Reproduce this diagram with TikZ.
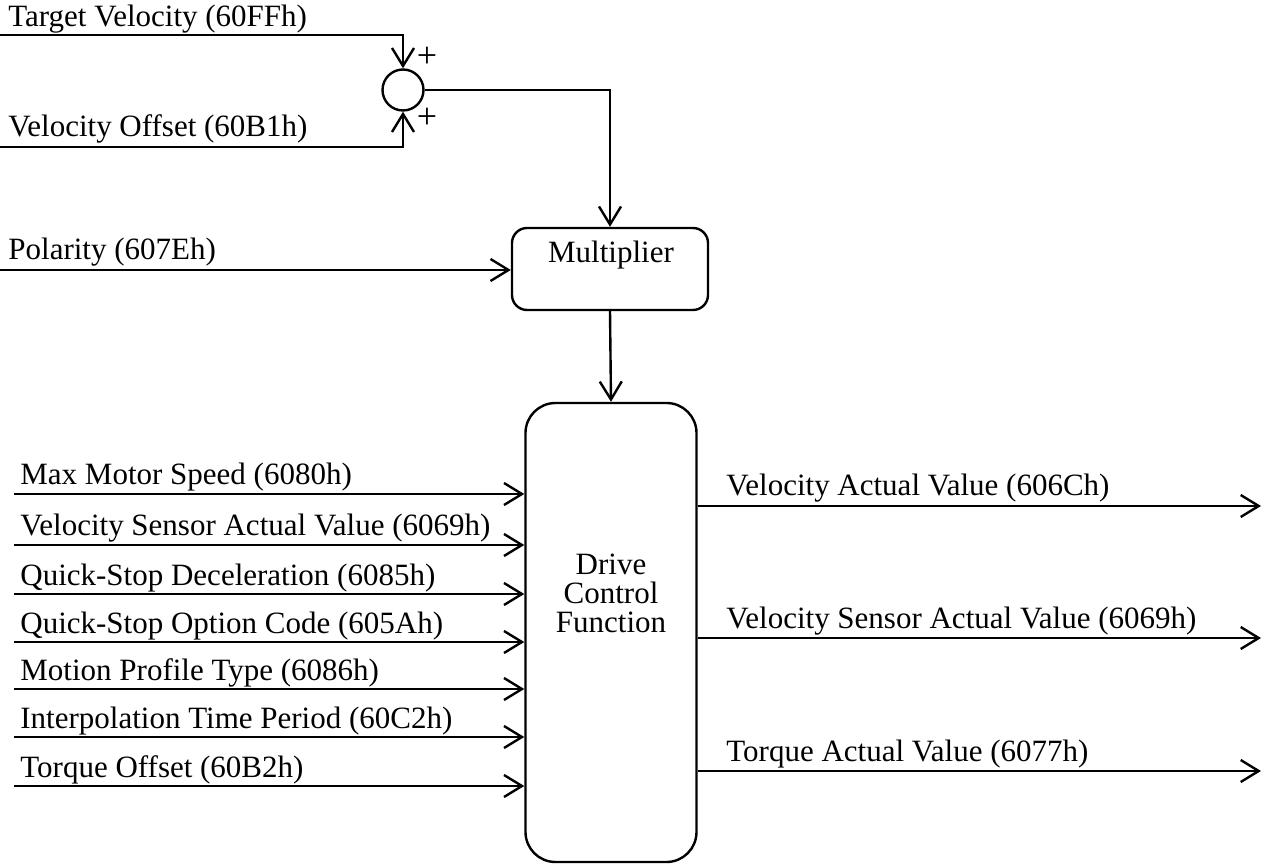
\documentclass[tikz,border=0pt]{standalone}
\usepackage{fontspec}
\setmainfont{Liberation Serif}
\usetikzlibrary{arrows.meta}
\begin{document}
\begin{tikzpicture}[
    x=0.5pt, y=-0.5pt,
    block/.style={rectangle, draw, line width=1.2pt, inner sep=0pt},
    lbl/.style={font=\fontsize{15.5}{14.5}\selectfont, inner sep=0pt},
    sign/.style={font=\fontsize{18}{18}\selectfont, inner sep=0pt},
    sig/.style={-{Straight Barb[length=9pt, width=11pt, line width=1.2pt]}, line width=1.2pt},
]
\useasboundingbox (0,0) rectangle (1263,865);

% Summing point
\node[circle, draw, line width=1.2pt, minimum size=20.5pt, inner sep=0pt] (sum) at (403,90) {};
\node[sign] (plusA) at (427,57) {+};
\node[sign] (plusB) at (427,118) {+};

% Blocks
\node[block, rounded corners=7.5pt, minimum width=98pt, minimum height=41pt] (mult) at (610,269) {};
\node[lbl] (multtxt) at (611,255) {Multiplier};
\node[block, rounded corners=15pt, minimum width=85.5pt, minimum height=229.5pt] (drive) at (611,632.5) {};
\node[lbl, align=center] (drivetxt) at (611,593) {Drive\\Control\\Function};

% Set-point inputs
\coordinate (tv) at (0,35);
\coordinate (vo) at (0,147);
\coordinate (pol) at (0,270);
\node[lbl, anchor=base west] (tvtxt) at (8,27) {Target Velocity (60FFh)};
\node[lbl, anchor=base west] (votxt) at (8,137) {Velocity Offset (60B1h)};
\node[lbl, anchor=base west] (poltxt) at (8,260) {Polarity (607Eh)};
\draw[sig] (tv) -| (sum.north);
\draw[sig] (vo) -| (sum.south);
\draw[sig] (sum.east) -| (mult.north);
\draw[sig] (pol) -- (pol -| mult.west);
\draw[sig] (mult.south) -- (drive.north);

% Drive inputs
\coordinate (in1) at (14,494);
\coordinate (in2) at (14,545);
\coordinate (in3) at (14,594);
\coordinate (in4) at (14,642);
\coordinate (in5) at (14,689);
\coordinate (in6) at (14,737);
\coordinate (in7) at (14,786);
\node[lbl, anchor=base west] (in1txt) at (20,485) {Max Motor Speed (6080h)};
\node[lbl, anchor=base west] (in2txt) at (20,536) {Velocity Sensor Actual Value (6069h)};
\node[lbl, anchor=base west] (in3txt) at (20,585) {Quick-Stop Deceleration (6085h)};
\node[lbl, anchor=base west] (in4txt) at (20,633) {Quick-Stop Option Code (605Ah)};
\node[lbl, anchor=base west] (in5txt) at (20,680) {Motion Profile Type (6086h)};
\node[lbl, anchor=base west] (in6txt) at (20,728) {Interpolation Time Period (60C2h)};
\node[lbl, anchor=base west] (in7txt) at (20,777) {Torque Offset (60B2h)};
\draw[sig] (in1) -- (in1 -| drive.west);
\draw[sig] (in2) -- (in2 -| drive.west);
\draw[sig] (in3) -- (in3 -| drive.west);
\draw[sig] (in4) -- (in4 -| drive.west);
\draw[sig] (in5) -- (in5 -| drive.west);
\draw[sig] (in6) -- (in6 -| drive.west);
\draw[sig] (in7) -- (in7 -| drive.west);

% Drive outputs
\coordinate (out1) at (1261,506);
\coordinate (out2) at (1261,638);
\coordinate (out3) at (1261,771);
\node[lbl, anchor=base west] (out1txt) at (726,496) {Velocity Actual Value (606Ch)};
\node[lbl, anchor=base west] (out2txt) at (726,628) {Velocity Sensor Actual Value (6069h)};
\node[lbl, anchor=base west] (out3txt) at (726,761) {Torque Actual Value (6077h)};
\draw[sig] (out1 -| drive.east) -- (out1);
\draw[sig] (out2 -| drive.east) -- (out2);
\draw[sig] (out3 -| drive.east) -- (out3);
\end{tikzpicture}
\end{document}
